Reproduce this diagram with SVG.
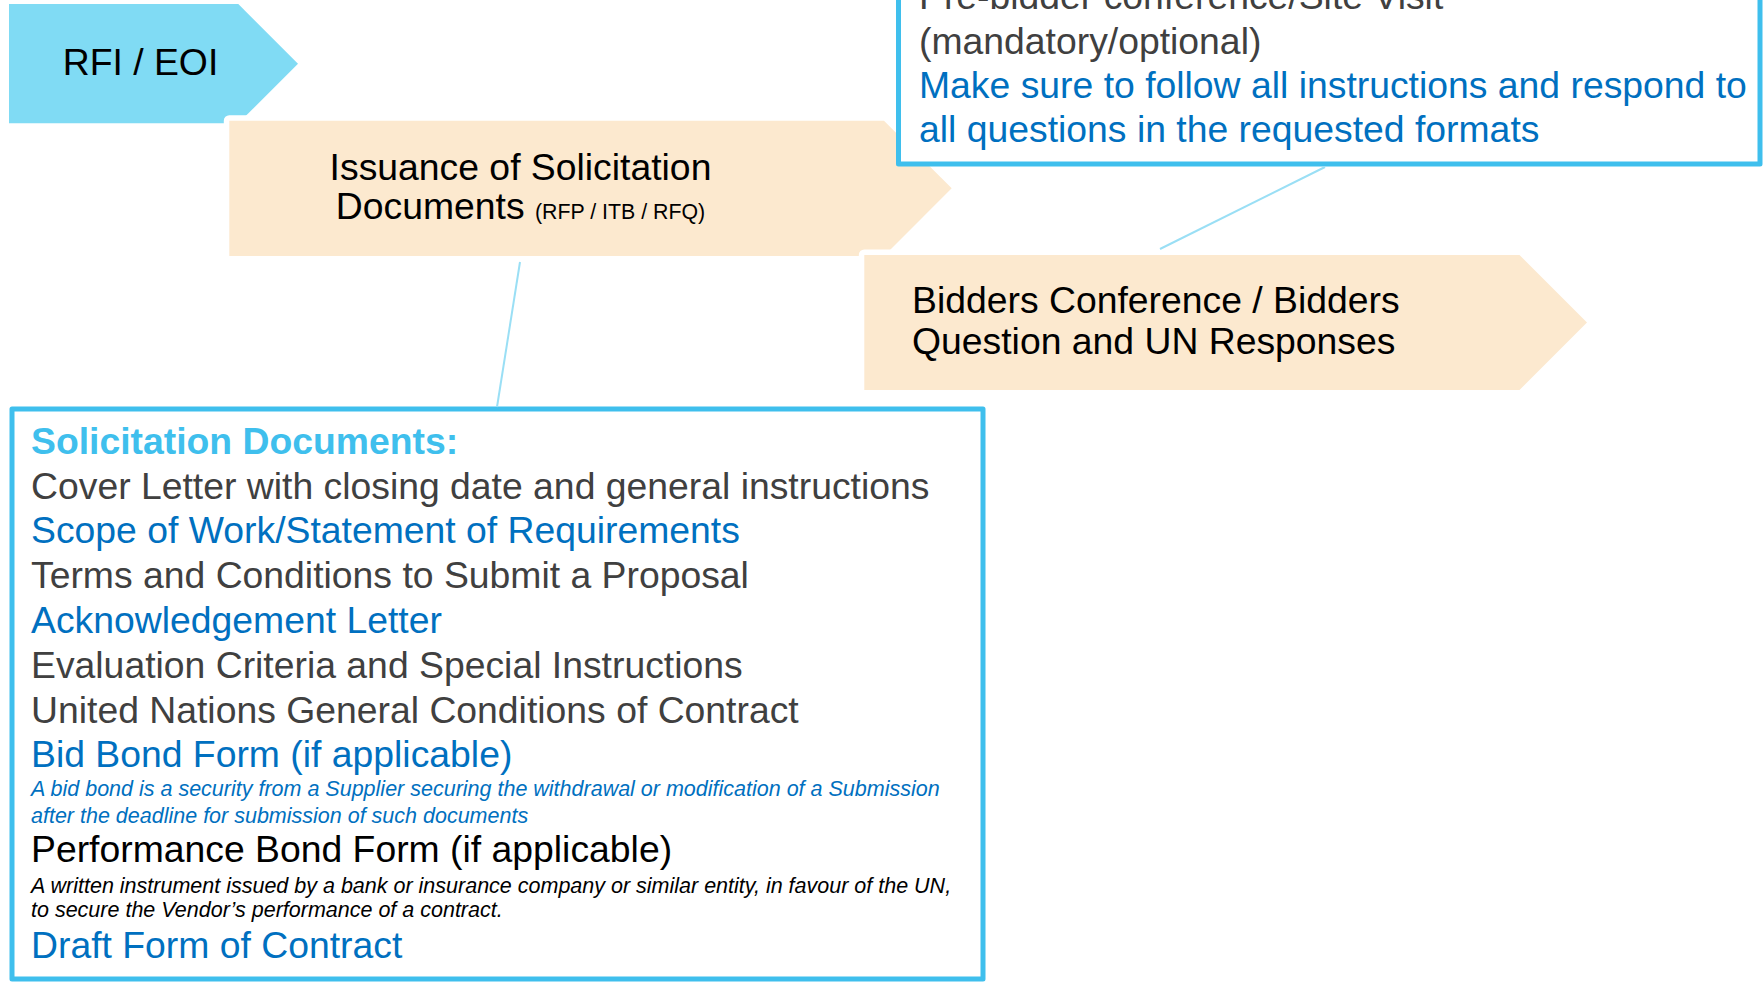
<svg xmlns="http://www.w3.org/2000/svg" width="1763" height="982" viewBox="0 0 1763 982">
  <style>
    text { font-family: "Liberation Sans", Arial, sans-serif; font-size: 37.33px; }
    .dark { fill: #000000; }
    .gray { fill: #404040; }
    .blue { fill: #0070c0; }
    .head { fill: #3fbfed; font-weight: bold; }
    .small { font-size: 21.33px; }
    .ital { font-size: 21.5px; font-style: italic; }
    .step-cyan { fill: #80dbf4; }
    .step-peach { fill: #fce9cf; stroke: #ffffff; stroke-width: 11; stroke-linejoin: round; paint-order: stroke; }
    .callout { fill: #ffffff; stroke: #3fbfed; stroke-width: 5; stroke-linejoin: round; }
    .link { stroke: #9adff5; stroke-width: 2; fill: none; }
  </style>

  <!-- Process steps -->
  <g id="rfi-eoi">
    <polygon class="step-cyan" points="9,4 238.3,4 298,63.7 238.3,123.3 9,123.3"/>
    <text class="dark" x="140.5" y="75" text-anchor="middle">RFI / EOI</text>
  </g>

  <g id="issuance">
    <polygon class="step-peach" points="229.3,120.7 884,120.7 951.7,188.3 884,256 229.3,256"/>
    <text class="dark" x="520.5" y="180" text-anchor="middle">Issuance of Solicitation</text>
    <text class="dark" x="520.5" y="219.3" text-anchor="middle">Documents <tspan class="small">(RFP / ITB / RFQ)</tspan></text>
  </g>

  <g id="bidders-conference">
    <polygon class="step-peach" points="864.3,255 1519.5,255 1587,322.5 1519.5,390 864.3,390"/>
    <text class="dark" x="912" y="313.3">Bidders Conference / Bidders</text>
    <text class="dark" x="912" y="354">Question and UN Responses</text>
  </g>

  <!-- Callout for the bidders conference -->
  <g id="pre-bidder-note">
    <rect class="callout" x="898.5" y="-20" width="861.5" height="184"/>
    <text class="gray" x="919" y="8.5">Pre-bidder conference/Site Visit</text>
    <text class="gray" x="919" y="53.5">(mandatory/optional)</text>
    <text class="blue" x="919" y="98">Make sure to follow all instructions and respond to</text>
    <text class="blue" x="919" y="142">all questions in the requested formats</text>
  </g>

  <!-- Callout listing the solicitation documents -->
  <g id="solicitation-documents">
    <rect class="callout" x="12" y="409" width="971" height="570"/>
    <text class="head" x="31" y="453.5">Solicitation Documents:</text>
    <text class="gray" x="31" y="498.5">Cover Letter with closing date and general instructions</text>
    <text class="blue" x="31" y="543.3">Scope of Work/Statement of Requirements</text>
    <text class="gray" x="31" y="588.2">Terms and Conditions to Submit a Proposal</text>
    <text class="blue" x="31" y="633">Acknowledgement Letter</text>
    <text class="gray" x="31" y="677.8">Evaluation Criteria and Special Instructions</text>
    <text class="gray" x="31" y="722.6">United Nations General Conditions of Contract</text>
    <text class="blue" x="31" y="767.4">Bid Bond Form (if applicable)</text>
    <text class="blue ital" x="31" y="796">A bid bond is a security from a Supplier securing the withdrawal or modification of a Submission</text>
    <text class="blue ital" x="31" y="822.7">after the deadline for submission of such documents</text>
    <text class="dark" x="31" y="861.7">Performance Bond Form (if applicable)</text>
    <text class="dark ital" x="31" y="893.3">A written instrument issued by a bank or insurance company or similar entity, in favour of the UN,</text>
    <text class="dark ital" x="31" y="917.3">to secure the Vendor’s performance of a contract.</text>
    <text class="blue" x="31" y="958.3">Draft Form of Contract</text>
  </g>

  <!-- Leader lines from steps to callouts -->
  <g id="connectors">
    <line class="link" x1="520" y1="262" x2="497" y2="407"/>
    <line class="link" x1="1325" y1="167" x2="1160" y2="249"/>
  </g>
</svg>
